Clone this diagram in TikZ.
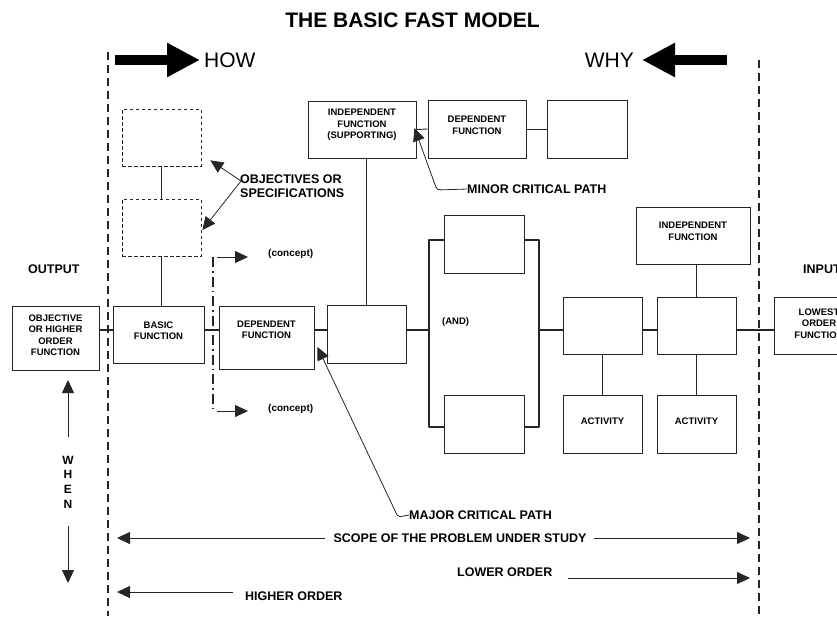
\documentclass[tikz,border=0pt]{standalone}
\usepackage{fontspec}
\setmainfont{Liberation Sans}
\usetikzlibrary{arrows.meta,calc}
\begin{document}
\begin{tikzpicture}[x=1pt,y=-1pt,
  box/.style={draw=black!85, line width=0.9pt, inner sep=0pt},
  dbox/.style={box, line width=0.7pt, dash pattern=on 3.5pt off 2.5pt},
  btxt/.style={font=\bfseries\fontsize{9.5}{11.5}\selectfont, align=center, inner sep=0pt},
  lbl/.style={font=\bfseries\fontsize{12.5}{14}\selectfont, inner sep=2pt},
  conn/.style={draw=black!85, line width=1.6pt},
  tconn/.style={draw=black!85, line width=0.9pt},
  brk/.style={draw=black!85, line width=2.2pt, line join=round},
  arr/.style={draw=black!85, line width=0.8pt, -{Triangle[length=13pt,width=12pt]}},
  bigarr/.style={draw=black, line width=10pt, -{Triangle[length=33pt,width=32pt]}},
  bigdash/.style={draw=black!85, line width=2.4pt, dash pattern=on 8pt off 5pt},
  ddot/.style={draw=black!85, line width=1.6pt, dash pattern=on 10pt off 4pt on 1.5pt off 4pt}]
\useasboundingbox (0,0) rectangle (837,616);
\clip (0,0) rectangle (837,616);

% title and HOW / WHY
\node[font=\bfseries\fontsize{21}{24}\selectfont] (title) at (412.5,20) {THE BASIC FAST MODEL};
\node[font=\fontsize{21}{24}\selectfont, anchor=west, inner sep=0pt] (how) at (204,60) {HOW};
\node[font=\fontsize{21}{24}\selectfont, anchor=east, inner sep=0pt] (why) at (634,60) {WHY};
\coordinate (howS) at (115,60);
\coordinate (whyS) at (727,60);
\draw[bigarr] (howS) -- ([xshift=-4pt]how.west);
\draw[bigarr] (whyS) -- ([xshift=8pt]why.east);

% scope boundaries
\coordinate (dlT) at (108,52);
\coordinate (dlB) at (108,616);
\coordinate (drT) at (759,60);
\coordinate (drB) at (759,616);
\draw[bigdash] (dlT) -- (dlB);
\draw[bigdash] (drT) -- (drB);

% boxes
\node[box, minimum width=87pt, minimum height=64pt,
  label={[btxt,yshift=3pt]center:{OBJECTIVE\\OR HIGHER\\ORDER\\FUNCTION}}] (obj) at (55.5,338) {};
\node[box, minimum width=91pt, minimum height=57pt,
  label={[btxt,yshift=4pt]center:{BASIC\\FUNCTION}}] (basic) at (158.5,334.5) {};
\node[box, minimum width=95pt, minimum height=63pt,
  label={[btxt,yshift=7.5pt]center:{DEPENDENT\\FUNCTION}}] (dep) at (266.5,337.5) {};
\node[box, minimum width=79pt, minimum height=58pt] (box3) at (366.5,334) {};
\node[box, minimum width=108pt, minimum height=57pt,
  label={[btxt,yshift=4.5pt]center:{INDEPENDENT\\FUNCTION\\(SUPPORTING)}}] (indsup) at (362,129.5) {};
\node[box, minimum width=98pt, minimum height=58pt,
  label={[btxt,yshift=3.5pt]center:{DEPENDENT\\FUNCTION}}] (deptop) at (477,129) {};
\node[box, minimum width=80pt, minimum height=58pt] (emptytop) at (587,129) {};
\node[dbox, minimum width=79pt, minimum height=57pt] (obj1) at (161.5,137.5) {};
\node[dbox, minimum width=79pt, minimum height=57pt] (obj2) at (161.5,227.5) {};
\node[box, minimum width=80pt, minimum height=58pt] (andtop) at (484,244) {};
\node[box, minimum width=80pt, minimum height=58pt] (andbot) at (484,424) {};
\node[box, minimum width=79pt, minimum height=57pt] (b5) at (602.5,325.5) {};
\node[box, minimum width=79pt, minimum height=57pt] (b6) at (696.5,325.5) {};
\node[box, minimum width=114pt, minimum height=57pt,
  label={[btxt,yshift=4pt]center:{INDEPENDENT\\FUNCTION}}] (indr) at (693,235.5) {};
\node[box, minimum width=79pt, minimum height=58pt,
  label={[btxt,yshift=3pt]center:{ACTIVITY}}] (act1) at (602.5,424) {};
\node[box, minimum width=79pt, minimum height=58pt,
  label={[btxt,yshift=3pt]center:{ACTIVITY}}] (act2) at (696.5,424) {};
\node[box, minimum width=90pt, minimum height=57pt,
  label={[btxt,yshift=2pt]center:{LOWEST\\ORDER\\FUNCTION}}] (lowest) at (819,325.5) {};
\node[btxt, anchor=west] (and) at (442,322) {(AND)};

% main critical path
\coordinate (my) at (0,330);
\coordinate (andTL) at (429,240);
\coordinate (andBL) at (429,427);
\coordinate (andTR) at (539,240);
\coordinate (andBR) at (539,427);
\draw[conn] (obj.east |- my) -- (basic.west |- my);
\draw[conn] (basic.east |- my) -- (dep.west |- my);
\draw[conn] (dep.east |- my) -- (box3.west |- my);
\draw[conn] (box3.east |- my) -- (andTL |- my);
\draw[conn] (andTR |- my) -- (b5.west |- my);
\draw[conn] (b5.east |- my) -- (b6.west |- my);
\draw[conn] (b6.east |- my) -- (lowest.west |- my);
\draw[brk] (andtop.west |- andTL) -- (andTL) -- (andBL) -- (andbot.west |- andBL);
\draw[brk] (andtop.east |- andTR) -- (andTR) -- (andBR) -- (andbot.east |- andBR);

% other links
\draw[tconn] (box3.north) -- (box3.north |- indsup.south);
\draw[tconn] (indsup.east) -- (deptop.west);
\draw[tconn] (deptop.east) -- (emptytop.west);
\draw[tconn] (obj1.south) -- (obj2.north);
\draw[tconn] (obj2.south) -- (obj2.south |- basic.north);
\draw[tconn] (b6.north) -- (b6.north |- indr.south);
\draw[tconn] (b5.south) -- (act1.north);
\draw[tconn] (b6.south) -- (act2.north);

% concepts
\coordinate (cc1) at (213,257);
\coordinate (cc2) at (213,411);
\node[font=\bfseries\fontsize{10}{12}\selectfont, anchor=west, inner sep=0pt] (con1) at (268,254) {(concept)};
\node[font=\bfseries\fontsize{10}{12}\selectfont, anchor=west, inner sep=0pt] (con2) at (268,409) {(concept)};
\draw[ddot] (cc1) -- (cc2);
\draw[arr] ([xshift=4pt]cc1) -- ($(con1.west |- cc1)+(-20,0)$);
\draw[arr] ([xshift=4pt]cc2) -- ($(con2.west |- cc2)+(-20,0)$);

% objectives
\node[lbl, align=left, anchor=west, inner sep=0pt] (objs) at (240,186) {OBJECTIVES OR\\SPECIFICATIONS};
\coordinate (objsrc) at (241,181);
\draw[arr] (objsrc) -- ($(obj1.south east)+(9,-6)$);
\draw[arr] (objsrc) -- ($(obj2.east)+(1,2.5)$);

% critical paths
\node[lbl, anchor=west, inner sep=0pt] (minor) at (467,189) {MINOR CRITICAL PATH};
\coordinate (minc) at (437,190);
\draw[arr, rounded corners=3pt] (minor.west) -- (minc) -- ($(indsup.east)+(-2,-1.5)$);
\node[lbl, anchor=west, inner sep=0pt] (major) at (409,515) {MAJOR CRITICAL PATH};
\coordinate (majc) at (398,517);
\draw[arr, rounded corners=2pt] (major.west) -- (majc) -- ($(dep.east)+(3,9.5)$);

% output / input
\node[lbl, anchor=west, inner sep=0pt] (output) at (28,269) {OUTPUT};
\node[lbl, anchor=west, inner sep=0pt] (input) at (803,269) {INPUT};

% when
\node[font=\bfseries\fontsize{12}{14.7}\selectfont, align=center, inner sep=0pt] (when) at (68,482) {W\\H\\E\\N};
\coordinate (wu1) at (68,437);
\coordinate (wu2) at (68,380);
\coordinate (wd1) at (68,526);
\coordinate (wd2) at (68,583);
\draw[arr] (wu1) -- (wu2);
\draw[arr] (wd1) -- (wd2);

% scope and order
\node[lbl, inner sep=0pt] (scope) at (460,538) {SCOPE OF THE PROBLEM UNDER STUDY};
\coordinate (scL) at (117,538);
\coordinate (scR) at (750,538);
\draw[arr] ([xshift=-8pt]scope.west) -- (scL);
\draw[arr] ([xshift=7pt]scope.east) -- (scR);
\node[lbl, anchor=west, inner sep=0pt] (lower) at (457,572) {LOWER ORDER};
\coordinate (lowS) at (568,578);
\coordinate (lowT) at (750,578);
\draw[arr] (lowS) -- (lowT);
\node[lbl, anchor=west, inner sep=0pt] (higher) at (245,596) {HIGHER ORDER};
\coordinate (higS) at (233,592);
\coordinate (higT) at (117,592);
\draw[arr] (higS) -- (higT);
\end{tikzpicture}
\end{document}
